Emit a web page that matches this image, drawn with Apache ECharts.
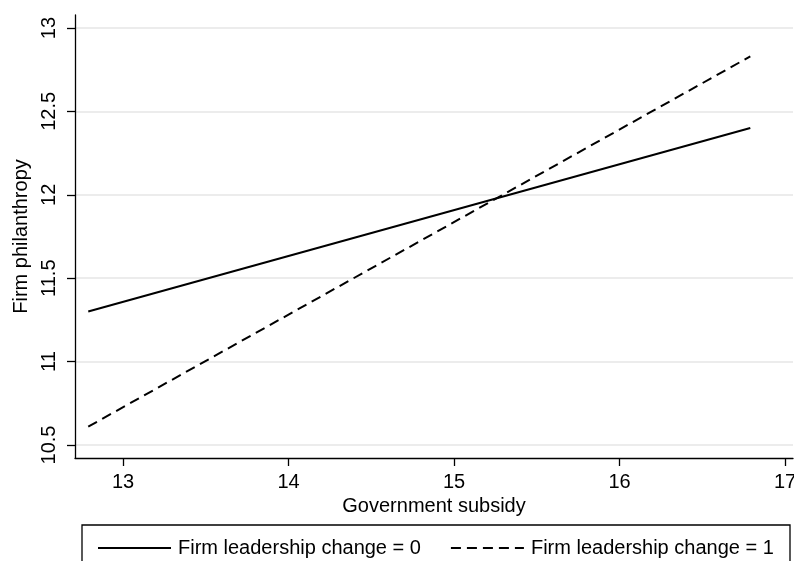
<!DOCTYPE html>
<html>
<head>
<meta charset="utf-8">
<script src="https://cdn.jsdelivr.net/npm/echarts@6/dist/echarts.min.js"></script>
<style>
  html, body { margin: 0; padding: 0; background: #fff; }
  #chart { width: 794px; height: 561px; }
</style>
</head>
<body>
<div id="chart"></div>
<script>
// Predicted firm philanthropy across government subsidy levels
const subsidy = [12.79, 16.79];
const noChange = [11.30, 12.40];     // Firm leadership change = 0
const withChange = [10.61, 12.83];   // Firm leadership change = 1
const seriesNames = ['Firm leadership change = 0', 'Firm leadership change = 1'];
const yTicks = [10.5, 11, 11.5, 12, 12.5, 13];
const xTicks = [13, 14, 15, 16, 17];

const font = '"Liberation Sans", Arial, sans-serif';

const chart = echarts.init(document.getElementById('chart'), null, { renderer: 'canvas' });

const toPairs = (xs, ys) => xs.map((x, i) => [x, ys[i]]);

chart.setOption({
  animation: false,
  backgroundColor: '#ffffff',
  textStyle: { fontFamily: font, color: '#000' },
  grid: { left: 75, right: 1, top: 15, bottom: 103, containLabel: false, outerBoundsMode: 'none' },
  xAxis: {
    type: 'value',
    min: 12.71,
    max: 17.048,
    name: 'Government subsidy',
    nameLocation: 'middle',
    nameGap: 35,
    nameTextStyle: { fontSize: 20, color: '#000', fontFamily: font },
    axisLine: { show: true, onZero: false, lineStyle: { color: '#000', width: 1.3 } },
    axisTick: { show: true, length: 8, lineStyle: { color: '#000', width: 1.3 },
      customValues: xTicks },
    axisLabel: { fontSize: 20, color: '#000', margin: 14, fontFamily: font,
      customValues: xTicks, formatter: v => String(v) },
    splitLine: { show: false }
  },
  yAxis: {
    type: 'value',
    min: 10.422,
    max: 13.078,
    name: 'Firm philanthropy',
    nameLocation: 'middle',
    nameGap: 44,
    nameRotate: 90,
    nameTextStyle: { fontSize: 20, color: '#000', fontFamily: font },
    axisLine: { show: true, onZero: false, lineStyle: { color: '#000', width: 1.3 } },
    axisTick: { show: true, length: 8, lineStyle: { color: '#000', width: 1.3 },
      customValues: yTicks },
    axisLabel: { fontSize: 20, color: '#000', rotate: 90, margin: 16, fontFamily: font,
      customValues: yTicks, formatter: v => String(v) },
    splitLine: { show: true, lineStyle: { color: '#e6e6e6', width: 1.5 },
      customValues: yTicks }
  },
  legend: {
    left: 92,
    top: 533,
    itemWidth: 73,
    itemHeight: 20,
    itemGap: 29,
    itemStyle: { opacity: 0 },
    textStyle: { fontSize: 20, color: '#000', fontFamily: font, padding: [0, 0, 0, 2] },
    data: seriesNames
  },
  graphic: [{
    type: 'rect',
    shape: { x: 82, y: 525, width: 708, height: 40 },
    style: { fill: 'none', stroke: '#000', lineWidth: 1.3 },
    silent: true
  }],
  series: [
    {
      name: seriesNames[0],
      type: 'line',
      data: toPairs(subsidy, noChange),
      symbol: 'none',
      lineStyle: { color: '#000', width: 2, type: 'solid' },
      itemStyle: { color: '#000' }
    },
    {
      name: seriesNames[1],
      type: 'line',
      data: toPairs(subsidy, withChange),
      symbol: 'none',
      lineStyle: { color: '#000', width: 2, type: [10, 6] },
      itemStyle: { color: '#000' }
    }
  ]
});
</script>
</body>
</html>
